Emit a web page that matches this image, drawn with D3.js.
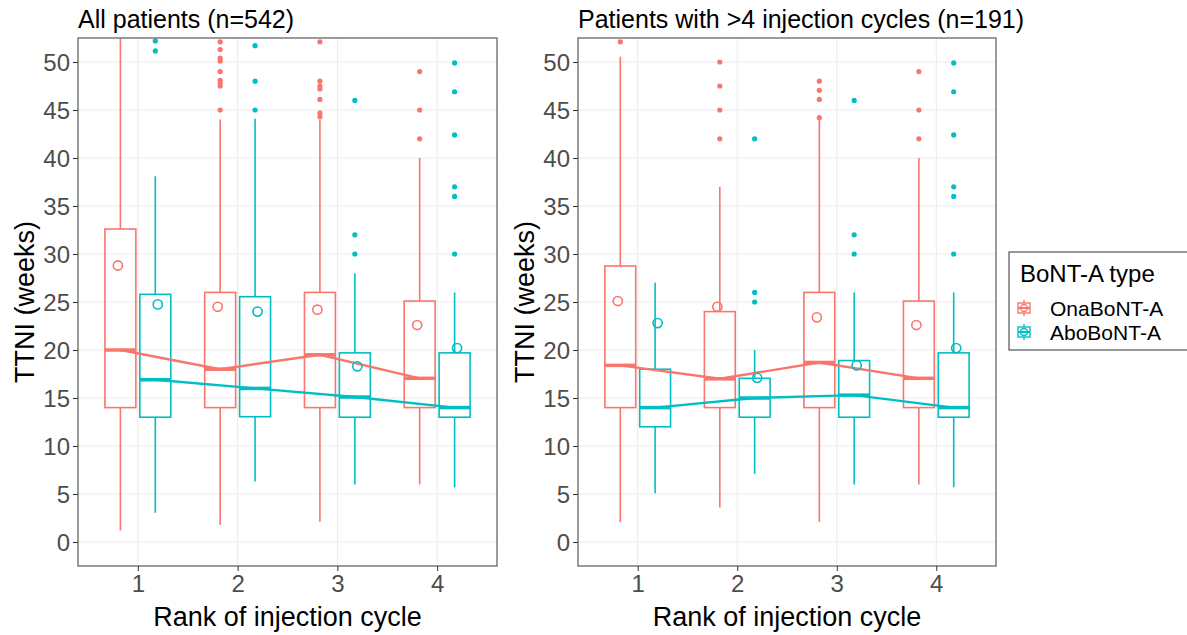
<!DOCTYPE html>
<html><head><meta charset="utf-8">
<script src="https://cdn.jsdelivr.net/npm/d3@7"></script>
<style>
body{margin:0;background:#fff;}
svg{display:block;font-family:"Liberation Sans",Arial,sans-serif;}
</style></head>
<body><svg id="chart" width="1187" height="635"></svg>
<script>
// ---------- data ----------
const ranks = [1, 2, 3, 4];
const types = ["OnaBoNT-A", "AboBoNT-A"];
const yTicks = [0, 5, 10, 15, 20, 25, 30, 35, 40, 45, 50];
const panelTitles = ["All patients (n=542)", "Patients with >4 injection cycles (n=191)"];

// Panel 1: All patients
const allOnaLow  = [1.2, 1.8, 2.1, 6.0];
const allOnaQ1   = [14.0, 14.0, 14.0, 14.0];
const allOnaMed  = [20.0, 18.0, 19.5, 17.05];
const allOnaQ3   = [32.6, 26.0, 26.0, 25.1];
const allOnaHigh = [60.0, 44.0, 44.0, 40.0];
const allOnaMean = [28.8, 24.5, 24.2, 22.6];
const allOnaOut  = [[], [52.1, 51.3, 50.4, 50.1, 49.0, 48.1, 47.8, 47.5, 45.0],
                    [52.1, 48.0, 47.5, 47.2, 46.1, 44.7, 44.3], [49.0, 45.0, 42.0]];
const allAboLow  = [3.05, 6.3, 6.0, 5.7];
const allAboQ1   = [13.0, 13.05, 13.0, 13.0];
const allAboMed  = [16.9, 16.0, 15.1, 14.0];
const allAboQ3   = [25.8, 25.55, 19.7, 19.7];
const allAboHigh = [38.1, 44.1, 28.0, 26.0];
const allAboMean = [24.75, 24.0, 18.3, 20.2];
const allAboOut  = [[52.2, 51.15], [51.7, 48.0, 45.0], [46.0, 32.0, 30.0],
                    [49.9, 46.9, 42.4, 37.0, 36.0, 30.0]];

// Panel 2: Patients with >4 injection cycles
const gt4OnaLow  = [2.05, 3.6, 2.1, 6.0];
const gt4OnaQ1   = [14.0, 14.0, 14.0, 14.0];
const gt4OnaMed  = [18.4, 17.0, 18.7, 17.05];
const gt4OnaQ3   = [28.75, 24.0, 26.0, 25.1];
const gt4OnaHigh = [50.55, 37.0, 44.2, 40.0];
const gt4OnaMean = [25.1, 24.5, 23.4, 22.6];
const gt4OnaOut  = [[52.1], [50.0, 47.5, 45.0, 42.0], [48.0, 47.05, 46.1, 44.2], [49.0, 45.0, 42.0]];
const gt4AboLow  = [5.07, 7.1, 6.0, 5.7];
const gt4AboQ1   = [12.0, 13.0, 13.0, 13.0];
const gt4AboMed  = [14.0, 15.0, 15.3, 14.0];
const gt4AboQ3   = [18.0, 17.05, 18.9, 19.7];
const gt4AboHigh = [27.0, 20.0, 26.0, 26.0];
const gt4AboMean = [22.8, 17.1, 18.4, 20.2];
const gt4AboOut  = [[], [42.0, 26.0, 25.0], [46.0, 32.0, 30.0],
                    [49.9, 46.9, 42.4, 37.0, 36.0, 30.0]];

const colors = {"OnaBoNT-A": "#F8766D", "AboBoNT-A": "#00BFC4"};

function series(low, q1, med, q3, high, mean, out) {
  return ranks.map((r, i) => ({rank: r, low: low[i], q1: q1[i], med: med[i], q3: q3[i],
                               high: high[i], mean: mean[i], out: out[i]}));
}
const panels = [
  {title: panelTitles[0], left: 78, right: 497,
   groups: {"OnaBoNT-A": series(allOnaLow, allOnaQ1, allOnaMed, allOnaQ3, allOnaHigh, allOnaMean, allOnaOut),
            "AboBoNT-A": series(allAboLow, allAboQ1, allAboMed, allAboQ3, allAboHigh, allAboMean, allAboOut)}},
  {title: panelTitles[1], left: 578, right: 996,
   groups: {"OnaBoNT-A": series(gt4OnaLow, gt4OnaQ1, gt4OnaMed, gt4OnaQ3, gt4OnaHigh, gt4OnaMean, gt4OnaOut),
            "AboBoNT-A": series(gt4AboLow, gt4AboQ1, gt4AboMed, gt4AboQ3, gt4AboHigh, gt4AboMean, gt4AboOut)}}
];

// ---------- drawing ----------
const svg = d3.select("#chart");
const plotTop = 38, plotBottom = 566;
const boxOffset = {"OnaBoNT-A": -0.175, "AboBoNT-A": 0.175};
const meanOffset = {"OnaBoNT-A": -0.2, "AboBoNT-A": 0.2};
const boxW = 0.31;

panels.forEach((p, pi) => {
  const x = d3.scaleLinear().domain([0.4, 4.6]).range([p.left, p.right]);
  const y = d3.scaleLinear().domain([-2.5, 52.5]).range([plotBottom, plotTop]);
  const g = svg.append("g");
  const clipId = "clip" + pi;
  svg.append("clipPath").attr("id", clipId).append("rect")
    .attr("x", p.left).attr("y", plotTop).attr("width", p.right - p.left).attr("height", plotBottom - plotTop);

  // grid
  g.append("g").selectAll("line").data(yTicks).join("line")
    .attr("x1", p.left).attr("x2", p.right).attr("y1", d => y(d)).attr("y2", d => y(d))
    .attr("stroke", "#EBEBEB").attr("stroke-width", 1);
  g.append("g").selectAll("line").data(ranks).join("line")
    .attr("y1", plotTop).attr("y2", plotBottom).attr("x1", d => x(d)).attr("x2", d => x(d))
    .attr("stroke", "#EBEBEB").attr("stroke-width", 1);

  const plot = g.append("g").attr("clip-path", `url(#${clipId})`);

  types.forEach(t => {
    const c = colors[t];
    const data = p.groups[t];
    const gg = plot.append("g");
    gg.selectAll(".wu").data(data).join("line").attr("class", "wu")
      .attr("x1", d => x(d.rank + boxOffset[t])).attr("x2", d => x(d.rank + boxOffset[t]))
      .attr("y1", d => y(d.q3)).attr("y2", d => y(d.high))
      .attr("stroke", c).attr("stroke-width", 1.6);
    gg.selectAll(".wl").data(data).join("line").attr("class", "wl")
      .attr("x1", d => x(d.rank + boxOffset[t])).attr("x2", d => x(d.rank + boxOffset[t]))
      .attr("y1", d => y(d.q1)).attr("y2", d => y(d.low))
      .attr("stroke", c).attr("stroke-width", 1.6);
    gg.selectAll(".box").data(data).join("rect").attr("class", "box")
      .attr("x", d => x(d.rank + boxOffset[t] - boxW / 2))
      .attr("width", d => x(d.rank + boxOffset[t] + boxW / 2) - x(d.rank + boxOffset[t] - boxW / 2))
      .attr("y", d => y(d.q3)).attr("height", d => y(d.q1) - y(d.q3))
      .attr("fill", "none").attr("stroke", c).attr("stroke-width", 1.6);
    gg.selectAll(".med").data(data).join("line").attr("class", "med")
      .attr("x1", d => x(d.rank + boxOffset[t] - boxW / 2)).attr("x2", d => x(d.rank + boxOffset[t] + boxW / 2))
      .attr("y1", d => y(d.med)).attr("y2", d => y(d.med))
      .attr("stroke", c).attr("stroke-width", 3.5);
    const outs = data.flatMap(d => d.out.map(v => ({rank: d.rank, v})));
    gg.selectAll(".out").data(outs).join("circle").attr("class", "out")
      .attr("cx", d => x(d.rank + boxOffset[t])).attr("cy", d => y(d.v)).attr("r", 2.6)
      .attr("fill", c);
  });
  types.forEach(t => {
    const c = colors[t];
    const data = p.groups[t];
    plot.append("path").datum(data)
      .attr("d", d3.line().x(d => x(d.rank + boxOffset[t])).y(d => y(d.med)))
      .attr("fill", "none").attr("stroke", c).attr("stroke-width", 2.4);
  });
  types.forEach(t => {
    const c = colors[t];
    const data = p.groups[t];
    plot.append("g").selectAll("circle").data(data).join("circle")
      .attr("cx", d => x(d.rank + meanOffset[t])).attr("cy", d => y(d.mean)).attr("r", 4.6)
      .attr("fill", "none").attr("stroke", c).attr("stroke-width", 1.6);
  });

  g.append("rect").attr("x", p.left).attr("y", plotTop)
    .attr("width", p.right - p.left).attr("height", plotBottom - plotTop)
    .attr("fill", "none").attr("stroke", "#666").attr("stroke-width", 1.3);

  const ya = g.append("g").attr("transform", `translate(${p.left},0)`)
    .call(d3.axisLeft(y).tickValues(yTicks).tickSize(5).tickPadding(3));
  const xa = g.append("g").attr("transform", `translate(0,${plotBottom})`)
    .call(d3.axisBottom(x).tickValues(ranks).tickSize(5).tickPadding(4).tickFormat(d3.format("d")));
  [ya, xa].forEach(a => {
    a.select(".domain").remove();
    a.selectAll(".tick line").attr("stroke", "#333");
    a.selectAll(".tick text").attr("fill", "#4D4D4D").style("font-size", "24px")
      .style("font-family", "'Liberation Sans',Arial,sans-serif");
  });
  ya.selectAll(".tick text").attr("dy", "0.36em");

  g.append("text").attr("x", p.left).attr("y", 28).text(p.title)
    .style("font-size", "25px").attr("fill", "#000");
  g.append("text").attr("x", (p.left + p.right) / 2).attr("y", 626).attr("text-anchor", "middle")
    .text("Rank of injection cycle").style("font-size", "27px").attr("fill", "#000");
  g.append("text").attr("transform", `translate(${p.left - 44},${(plotTop + plotBottom) / 2}) rotate(-90)`)
    .attr("text-anchor", "middle").text("TTNI (weeks)").style("font-size", "27px").attr("fill", "#000");
});

// legend
const lg = svg.append("g");
lg.append("rect").attr("x", 1009).attr("y", 252).attr("width", 190).attr("height", 98)
  .attr("fill", "#fff").attr("stroke", "#333").attr("stroke-width", 1);
lg.append("text").attr("x", 1020).attr("y", 282).text("BoNT-A type").style("font-size", "24px");
types.forEach((t, i) => {
  const cy = 308 + i * 24;
  const c = colors[t];
  const kx = 1024;
  const k = lg.append("g");
  k.append("line").attr("x1", kx).attr("x2", kx).attr("y1", cy - 8).attr("y2", cy + 8)
    .attr("stroke", c).attr("stroke-width", 1.4);
  k.append("rect").attr("x", kx - 6).attr("y", cy - 5).attr("width", 12).attr("height", 10)
    .attr("fill", "#fff").attr("stroke", c).attr("stroke-width", 1.4);
  k.append("line").attr("x1", kx - 6).attr("x2", kx + 6).attr("y1", cy).attr("y2", cy)
    .attr("stroke", c).attr("stroke-width", 2);
  k.append("circle").attr("cx", kx).attr("cy", cy).attr("r", 3.5)
    .attr("fill", "none").attr("stroke", c).attr("stroke-width", 1.4);
  lg.append("text").attr("x", 1050).attr("y", cy + 8).text(t).style("font-size", "21px");
});
</script></body></html>
